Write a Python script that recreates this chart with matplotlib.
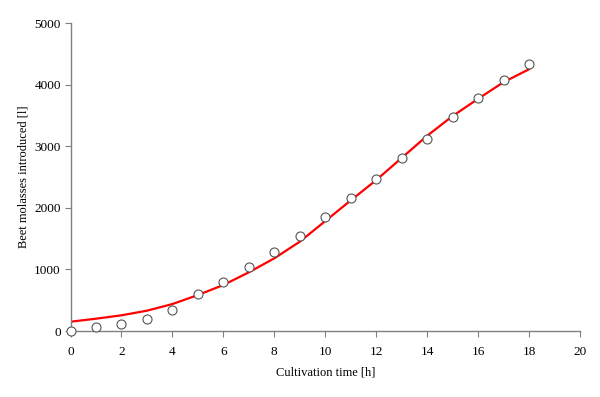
import matplotlib.pyplot as plt

# measured points
t_obs = [0, 1, 2, 3, 4, 5, 6, 7, 8, 9, 10, 11, 12, 13, 14, 15, 16, 17, 18]
m_obs = [0, 60, 114, 190, 336, 600, 800, 1044, 1282, 1547, 1855, 2164, 2467, 2803, 3117, 3474, 3777, 4080, 4330]

# model curve
t_fit = [0, 1, 2, 3, 4, 5, 6, 7, 8, 9, 10, 11, 12, 13, 14, 15, 16, 17, 18]
m_fit = [151, 200, 255, 330, 438, 584, 747, 953, 1180, 1450, 1785, 2120, 2450, 2810, 3170, 3490, 3770, 4040, 4250]

plt.rcParams['font.family'] = ['Liberation Serif', 'DejaVu Serif']

fig = plt.figure(figsize=(6, 3.97), dpi=100)
ax = fig.add_axes([0.1175, 0.1662, 0.8492, 0.7758])

ax.plot(t_fit, m_fit, color='red', lw=1.6, zorder=2)
ax.plot(t_obs, m_obs, 'o', ms=6.5, mfc='white', mec='#555555', mew=0.8, zorder=3, clip_on=False)

ax.set_xlim(0, 20)
ax.set_ylim(0, 5000)
ax.set_xticks(range(0, 21, 2))
ax.set_yticks(range(0, 5001, 1000))

for s in ['top', 'right']:
    ax.spines[s].set_visible(False)
for s in ['left', 'bottom']:
    ax.spines[s].set_color('#808080')
    ax.spines[s].set_linewidth(1.0)
ax.tick_params(direction='out', length=4, color='#808080', labelsize=9.5, pad=3)
ax.tick_params(axis='x', pad=7)

ax.set_xlabel('Cultivation time [h]', fontsize=9, labelpad=6)
ax.set_ylabel('Beet molasses introduced [l]', fontsize=9, labelpad=3)

plt.savefig('out.png', dpi=100)
